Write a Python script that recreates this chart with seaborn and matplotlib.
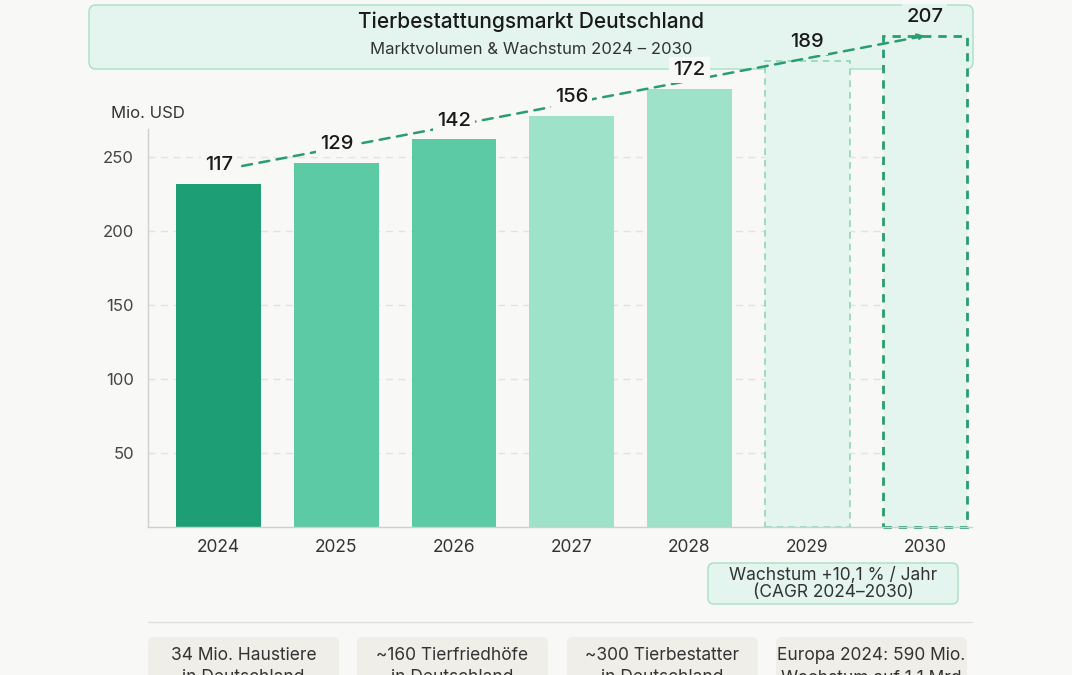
"""Tierbestattungsmarkt Deutschland - bar chart with seaborn."""
import matplotlib
matplotlib.use('Agg')
import matplotlib.pyplot as plt
from matplotlib.patches import FancyBboxPatch
from matplotlib.transforms import IdentityTransform
import pandas as pd
import seaborn as sns

# data
years = ['2024', '2025', '2026', '2027', '2028', '2029', '2030']
market_labels = [117, 129, 142, 156, 172, 189, 207]      # printed values (Mio. USD)
bar_heights = [232, 246, 262, 278, 296, 315, 332]        # bar tops on the Mio. USD axis
y_ticks = [50, 100, 150, 200, 250]
cards = [('34 Mio. Haustiere', 'in Deutschland'),
         ('~160 Tierfriedhöfe', 'in Deutschland'),
         ('~300 Tierbestatter', 'in Deutschland'),
         ('Europa 2024: 590 Mio.', 'Wachstum auf 1,1 Mrd')]
cagr_text = 'Wachstum +10,1 % / Jahr\n(CAGR 2024–2030)'

W, H = 1072, 675
bg = '#f8f8f6'
box_face = '#e3f5ee'
box_edge = '#a8dfc6'
green = '#2a9d6f'
bar_colors = ['#1e9e74', '#5ccaa5', '#5ccaa5', '#9ee2c9', '#9ee2c9', box_face, box_face]

sns.set_style('white')
plt.rcParams['font.family'] = ['Inter', 'DejaVu Sans']

fig = plt.figure(figsize=(W / 100, H / 100), dpi=100, facecolor=bg)


def fx(x):
    return x / W


def fy(y):
    return 1 - y / H


def px_box(x0, y0, x1, y1, face, edge, lw=1.0, r=7, z=-1):
    patch = FancyBboxPatch((x0, H - y1), x1 - x0, y1 - y0,
                           boxstyle=f'round,pad=0,rounding_size={r}',
                           transform=IdentityTransform(), facecolor=face,
                           edgecolor=edge, linewidth=lw, zorder=z)
    fig.patches.append(patch)


# title box
px_box(89, 5, 973, 69, box_face, box_edge)
fig.text(fx(531), fy(22), 'Tierbestattungsmarkt Deutschland', ha='center', va='center',
         fontsize=15, fontweight='medium', color='#1a1a1a')
fig.text(fx(531), fy(49), 'Marktvolumen & Wachstum 2024 – 2030', ha='center', va='center',
         fontsize=12, color='#333333')

ax = fig.add_axes([fx(148), fy(527), fx(972) - fx(148), fy(129) - fy(527)])
ax.set_facecolor('none')

df = pd.DataFrame({'year': years, 'height': bar_heights})
sns.barplot(data=df, x='year', y='height', hue='year', palette=bar_colors,
            saturation=1, width=0.72, legend=False, ax=ax, zorder=2)

for i, bar in enumerate(ax.patches):
    bar.set_clip_on(False)
    bar.set_linewidth(0)
    if i == len(years) - 2:
        bar.set_edgecolor('#8fd6b8')
        bar.set_linestyle((0, (4, 3)))
        bar.set_linewidth(1.2)
    elif i == len(years) - 1:
        bar.set_edgecolor(green)
        bar.set_linestyle((0, (3, 2.5)))
        bar.set_linewidth(2.0)

ax.set_xlim(-0.6, 6.4)
ax.set_ylim(0, 269)
ax.set_yticks(y_ticks)
ax.set_xlabel('')
ax.set_ylabel('')
ax.tick_params(axis='y', length=0, labelsize=12, labelcolor='#444444', pad=10)
ax.tick_params(axis='x', length=0, labelsize=12.5, labelcolor='#333333', pad=9)
ax.yaxis.grid(True, linestyle=(0, (5, 4)), color='#e2e2e2', linewidth=1, zorder=0)
ax.set_axisbelow(True)
for side in ['top', 'right']:
    ax.spines[side].set_visible(False)
for side in ['left', 'bottom']:
    ax.spines[side].set_color('#cfcfcf')
    ax.spines[side].set_linewidth(1)

ax.text(0, 1.02, 'Mio. USD', transform=ax.transAxes, ha='center', va='bottom',
        fontsize=12, color='#333333')

# dashed growth line from the first label to the top of the last bar
ax.annotate('', xy=(len(years) - 1, bar_heights[-1]),
            xytext=(0.2, bar_heights[0] + 12),
            arrowprops=dict(arrowstyle='->', color=green, lw=1.8,
                            linestyle=(0, (4, 3)), shrinkA=0, shrinkB=0),
            annotation_clip=False, zorder=3)

# value labels above bars
for i, (h, v) in enumerate(zip(bar_heights, market_labels)):
    lbl_bg = bg if i < len(years) - 2 else box_face
    ax.annotate(f'{v}', xy=(i, h), xytext=(0, 7), textcoords='offset points',
                ha='center', va='bottom', fontsize=14.5, fontweight='medium',
                color='#1a1a1a', annotation_clip=False, zorder=4,
                bbox=dict(boxstyle='square,pad=0.2', facecolor=lbl_bg, edgecolor='none'))

# CAGR box
px_box(708, 563, 958, 604, box_face, box_edge, r=6, z=1)
fig.text(fx(833), fy(584), cagr_text, ha='center', va='center', fontsize=12.5,
         color='#333333', linespacing=1.0)

# separator
fig.add_artist(plt.Line2D([fx(148), fx(972)], [fy(622), fy(622)], color='#e0e0e0', lw=1))

# fact cards (cut at the bottom of the picture, as in the reference)
card_x = [148, 357, 567, 776]
for x0, (line1, line2) in zip(card_x, cards):
    px_box(x0, 637, x0 + 191, 720, '#f0eee8', 'none', r=6, z=1)
    fig.text(fx(x0 + 95.5), fy(655), line1, ha='center', va='center',
             fontsize=12.5, color='#333333')
    fig.text(fx(x0 + 95.5), fy(678), line2, ha='center', va='center',
             fontsize=12.5, color='#333333')

fig.savefig('out.png', dpi=100, facecolor=bg)
